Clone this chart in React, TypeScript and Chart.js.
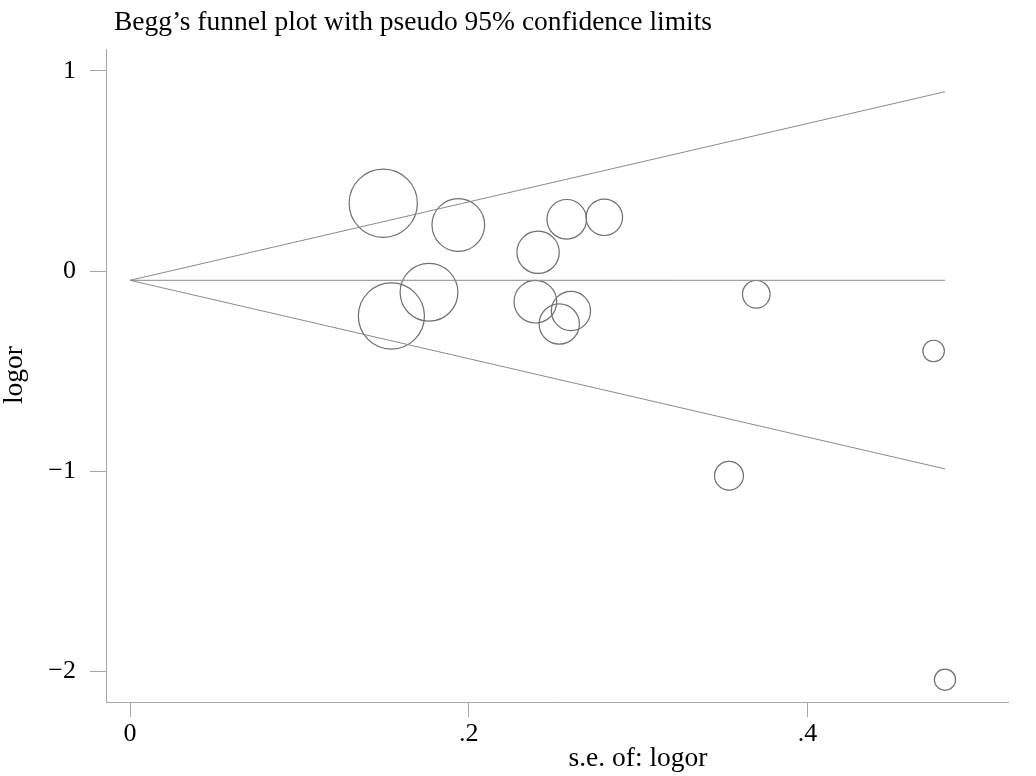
import React, { useEffect, useRef } from 'react';
import { Chart, registerables } from 'chart.js';

Chart.register(...registerables);

// Study standard errors (x) and log odds ratios (y)
const seValues = [0.1495, 0.1938, 0.2578, 0.280, 0.2409, 0.1543, 0.1765, 0.2393, 0.2603, 0.2534, 0.3697, 0.4744, 0.3536, 0.4811];
const logorValues = [0.3385, 0.23, 0.2585, 0.2685, 0.0935, -0.225, -0.1065, -0.1535, -0.20, -0.265, -0.1165, -0.40, -1.0235, -2.0435];
const pooledLogor = -0.0465;
const xTickValues = [0, 0.2, 0.4];
const yTickValues = [-2, -1, 0, 1];

const titleText = 'Begg\u2019s funnel plot with pseudo 95% confidence limits';
const xTitleText = 's.e. of: logor';
const yTitleText = 'logor';

const FONT = '"Liberation Serif", "DejaVu Serif", serif';
const AXIS_COLOR = '#a6a6a6';
const LINE_COLOR = '#8a8a8a';
const CIRCLE_COLOR = '#6e6e6e';
const BUBBLE_SCALE = 5.1; // marker radius ∝ 1/se

const fmtX = (v: number) => (v === 0 ? '0' : String(v).replace(/^0/, ''));
const fmtY = (v: number) => (v < 0 ? '\u2212' + Math.abs(v) : String(v));

export default function App() {
  const ref = useRef<HTMLCanvasElement>(null);

  useEffect(() => {
    document.body.style.margin = '0';
    const seMax = Math.max(...seValues);
    const bubbles = seValues.map((s, i) => ({ x: s, y: logorValues[i], r: BUBBLE_SCALE / s }));

    const textPlugin = {
      id: 'stataText',
      afterDraw(chart: any) {
        const ctx = chart.ctx as CanvasRenderingContext2D;
        ctx.save();
        ctx.fillStyle = '#000';
        ctx.font = `27.5px ${FONT}`;
        ctx.textBaseline = 'alphabetic';
        ctx.textAlign = 'left';
        ctx.fillText(titleText, 114, 30);
        ctx.textAlign = 'center';
        ctx.fillText(xTitleText, 638, 766);
        ctx.translate(22, 375);
        ctx.rotate(-Math.PI / 2);
        ctx.fillText(yTitleText, 0, 0);
        ctx.restore();
      },
    };

    const lineDs = (pts: { x: number; y: number }[]) => ({
      type: 'line' as const,
      data: pts,
      borderColor: LINE_COLOR,
      borderWidth: 1,
      pointRadius: 0,
      fill: false,
      tension: 0,
    });

    const chart = new Chart(ref.current!, {
      type: 'bubble',
      data: {
        datasets: [
          lineDs([{ x: 0, y: pooledLogor }, { x: seMax, y: pooledLogor + 1.96 * seMax }]),
          lineDs([{ x: 0, y: pooledLogor }, { x: seMax, y: pooledLogor - 1.96 * seMax }]),
          lineDs([{ x: 0, y: pooledLogor }, { x: seMax, y: pooledLogor }]),
          {
            type: 'bubble',
            data: bubbles,
            borderColor: CIRCLE_COLOR,
            backgroundColor: 'rgba(0,0,0,0)',
            borderWidth: 1.2,
            hoverRadius: 0,
          },
        ] as any,
      },
      options: {
        responsive: false,
        animation: false,
        events: [],
        layout: { autoPadding: false, padding: { top: 49, right: 28, left: 0, bottom: 0 } },
        plugins: { legend: { display: false }, tooltip: { enabled: false }, title: { display: false } },
        scales: {
          x: {
            type: 'linear',
            min: -0.01417,
            max: 0.5183,
            afterBuildTicks: (s: any) => {
              s.ticks = xTickValues.map((v) => ({ value: v }));
            },
            afterFit: (s: any) => {
              s.height = 74;
              s.paddingLeft = 0;
              s.paddingRight = 0;
            },
            ticks: {
              callback: (v: any) => fmtX(Number(v)),
              font: { size: 26, family: FONT },
              color: '#000',
              padding: 2,
              maxRotation: 0,
              autoSkip: false,
            },
            grid: { display: true, drawOnChartArea: false, drawTicks: true, tickLength: 15, color: AXIS_COLOR, lineWidth: 1 },
            border: { display: true, color: AXIS_COLOR, width: 1 },
          },
          y: {
            type: 'linear',
            min: -2.155,
            max: 1.11,
            afterBuildTicks: (s: any) => {
              s.ticks = yTickValues.map((v) => ({ value: v }));
            },
            afterFit: (s: any) => {
              s.width = 106;
              s.paddingTop = 0;
              s.paddingBottom = 0;
            },
            ticks: {
              callback: (v: any) => fmtY(Number(v)),
              font: { size: 26, family: FONT },
              color: '#000',
              padding: 14,
              autoSkip: false,
            },
            grid: { display: true, drawOnChartArea: false, drawTicks: true, tickLength: 16, color: AXIS_COLOR, lineWidth: 1 },
            border: { display: true, color: AXIS_COLOR, width: 1 },
          },
        },
      } as any,
      plugins: [textPlugin],
    });
    return () => chart.destroy();
  }, []);

  return <canvas ref={ref} width={1036} height={776} style={{ display: 'block', width: 1036, height: 776 }} />;
}
